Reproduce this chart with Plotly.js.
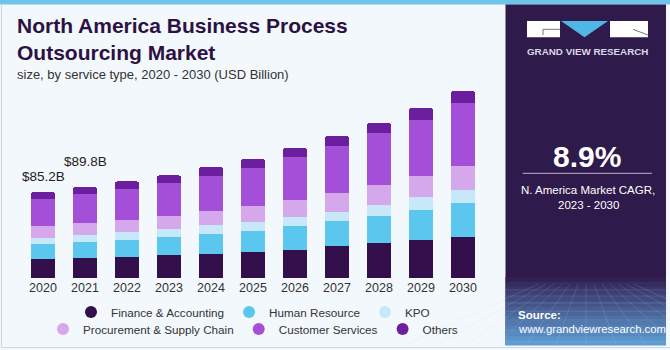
<!DOCTYPE html>
<html>
<head>
<meta charset="utf-8">
<script src="https://cdn.plot.ly/plotly-3.0.1.min.js"></script>
<style>html,body{margin:0;padding:0;background:#f3f8fc;}#chart{width:670px;height:350px;}</style>
</head>
<body>
<div id="chart"></div>
<script>
// ---- Data (USD Billion) ----
const years = ['2020','2021','2022','2023','2024','2025','2026','2027','2028','2029','2030'];
const financeAccounting = [18.8, 19.8, 21.1, 22.4, 24.1, 25.7, 27.7, 31.3, 34.3, 37.6, 40.2];
const humanResource     = [15.1, 15.8, 16.1, 17.8, 19.5, 20.8, 23.8, 24.8, 27.1, 29.7, 33.7];
const kpo               = [6.2, 6.9, 7.9, 8.3, 8.5, 8.9, 9.2, 9.6, 11.2, 12.9, 13.6];
const procurement       = [10.9, 11.9, 12.3, 12.9, 13.9, 15.8, 16.8, 18.5, 19.5, 20.8, 23.5];
const customerServices  = [27.4, 28.8, 30.7, 32.7, 34.7, 37.9, 41.9, 46.8, 51.1, 55.7, 62.7];
const others            = [6.8, 6.6, 7.5, 7.5, 8.9, 8.9, 9.6, 9.9, 10.6, 11.9, 11.6];
const seriesNames = ['Finance & Accounting','Human Resource','KPO','Procurement & Supply Chain','Customer Services','Others'];
const labelledYears = ['2020','2021'];
const cagrText = '8.9%';

// ---- Styling ----
const colors = ['#33104b','#5bc7ef','#c6e8f8','#d5a7eb','#a34fd7','#6b1f9f'];
const seriesData = [financeAccounting, humanResource, kpo, procurement, customerServices, others];
const L = 22, R = 484, T = 85, B = 278;
const X = px => (px - L) / (R - L);
const Y = py => (B - py) / (B - T);
const textFont = 'Liberation Sans, Arial, sans-serif';

const traces = [];
seriesData.forEach((vals, i) => {
  traces.push({type:'bar', x: years, y: vals, name: seriesNames[i],
    marker:{color: colors[i], line:{width:0}}, showlegend:false, hoverinfo:'skip'});
});
// legend entries (circle markers), two rows, on a hidden overlay axis
seriesData.forEach((vals, i) => {
  traces.push({type:'scatter', mode:'markers', x:[years[0]], y:[null], name: seriesNames[i],
    xaxis:'x2', yaxis:'y2',
    marker:{color: colors[i], size:9, symbol:'circle'}, showlegend:true,
    legend: i < 3 ? 'legend' : 'legend2', hoverinfo:'skip'});
});

const totals = years.map((_, j) => seriesData.reduce((s, arr) => s + arr[j], 0));
const labelShift = {'2020': 6, '2021': 16};

const annotations = [];
labelledYears.forEach(yr => {
  const j = years.indexOf(yr);
  annotations.push({x: j, y: totals[j], xref:'x', yref:'y', text: '$' + totals[j].toFixed(1) + 'B',
    showarrow:false, yanchor:'bottom', yshift: labelShift[yr], font:{family:textFont, size:13.5, color:'#222'}});
});
const ann = (px, py, text, font, xanchor) => annotations.push({xref:'paper', yref:'paper', x:X(px), y:Y(py),
  text, showarrow:false, xanchor: xanchor || 'center', yanchor:'middle', font});
ann(15, 74, 'size, by service type, 2020 - 2030 (USD Billion)', {family:textFont, size:13, color:'#333'}, 'left');
ann(587, 51.7, 'GRAND VIEW RESEARCH', {family:textFont, size:9.8, weight:700, color:'#dcd8e6'});
ann(587, 156.2, cagrText, {family:textFont, size:30, weight:700, color:'#ffffff'});
ann(588, 190, 'N. America Market CAGR,', {family:textFont, size:11.5, color:'#ffffff'});
ann(588, 204.5, '2023 - 2030', {family:textFont, size:11.5, color:'#ffffff'});
ann(516, 314.5, 'Source:', {family:textFont, size:11.5, weight:700, color:'#ffffff'}, 'left');
ann(516, 328.5, 'www.grandviewresearch.com', {family:textFont, size:11.3, color:'#ffffff'}, 'left');

// ---- Decorative shapes (pixel positions converted to paper coords) ----
const shapes = [];
const rect = (x0, y0, x1, y1, color, extra) => shapes.push(Object.assign({type:'rect', xref:'paper', yref:'paper',
  x0:X(x0), x1:X(x1), y0:Y(y1), y1:Y(y0), fillcolor:color, line:{width:0}, layer:'below'}, extra || {}));
const line = (x0, y0, x1, y1, color, w) => shapes.push({type:'line', xref:'paper', yref:'paper',
  x0:X(x0), x1:X(x1), y0:Y(y0), y1:Y(y1), line:{color, width:w || 1}, layer:'below'});
rect(0, 0, 670, 4.5, '#6ec5e9');
rect(505.5, 4.5, 666, 345, '#2f1a4c');
// bottom glow of panel
const c0 = [47, 26, 76], c1 = [96, 160, 214];
const nStrips = 14, gy0 = 277, gy1 = 345;
for (let k = 0; k < nStrips; k++) {
  const t = Math.pow((k + 0.5) / nStrips, 0.9);
  const c = c0.map((v, i) => Math.round(v + (c1[i] - v) * t));
  const ya = gy0 + (gy1 - gy0) * k / nStrips, yb = gy0 + (gy1 - gy0) * (k + 1) / nStrips + 0.5;
  rect(505.5, ya, 666, yb, 'rgb(' + c.join(',') + ')');
}
// faint perspective grid
const hy = [290, 296, 303, 311, 320, 330, 341];
hy.forEach(y => line(505.5, y, 666, y, 'rgba(190,215,245,0.22)', 0.8));
for (let k = -6; k <= 6; k++) {
  line(586 + k * 8, 284, 586 + k * 30, 345, 'rgba(190,215,245,0.2)', 0.8);
}
// logo
rect(527, 21, 560, 37.3, '#ffffff');
rect(610, 21, 648, 37.3, '#ffffff');
shapes.push({type:'path', xref:'paper', yref:'paper', layer:'below',
  path:'M ' + X(561) + ' ' + Y(21) + ' L ' + X(608) + ' ' + Y(21) + ' L ' + X(584.5) + ' ' + Y(37.3) + ' Z',
  fillcolor:'#4fb6e6', line:{width:0}});
line(543, 29.3, 560, 29.3, '#777', 1);
line(543, 29.3, 543, 35, '#777', 1);
line(633, 29.3, 648, 35, '#777', 1);
// CAGR separator
line(522.7, 173.3, 652, 173.3, '#bdb3cc', 1);
// chart border
line(1.5, 4.5, 1.5, 347.5, '#cfd6dc', 1);
line(1.5, 347.5, 670, 347.5, '#cfd6dc', 1);

const legendBase = {orientation:'h', xref:'paper', yref:'paper', x:0.5, xanchor:'center', yanchor:'middle',
  traceorder:'normal', bgcolor:'rgba(0,0,0,0)', font:{family:textFont, size:11.7, color:'#333'}, itemsizing:'constant'};

const layout = {
  width:670, height:350,
  margin:{l:L, r:670 - R, t:T, b:350 - B, pad:0, autoexpand:false},
  paper_bgcolor:'#f3f8fc', plot_bgcolor:'#f3f8fc',
  barmode:'stack', bargap:0.42, barcornerradius:3,
  title:{text:'North America Business Process<br>Outsourcing Market', xref:'container', yref:'container',
    x:17/670, xanchor:'left', y:1 - 32.5/350, yanchor:'middle',
    font:{family:textFont, size:21, weight:700, color:'#2c1243'}},
  xaxis:{type:'category', categoryarray: years, range:[-0.5, years.length - 0.5], showgrid:false, zeroline:false, showline:false, ticks:'',
    automargin:false, tickfont:{family:textFont, size:12.5, color:'#333'}, fixedrange:true},
  yaxis:{range:[0, 191.1], visible:false, fixedrange:true},
  xaxis2:{overlaying:'x', visible:false, type:'category', fixedrange:true},
  yaxis2:{overlaying:'y', visible:false, range:[0,1], fixedrange:true},
  showlegend:true,
  legend:Object.assign({}, legendBase, {y:Y(312)}),
  legend2:Object.assign({}, legendBase, {y:Y(329)}),
  annotations, shapes, hovermode:false
};
Plotly.newPlot('chart', traces, layout, {displayModeBar:false, staticPlot:true});
</script>
</body>
</html>
